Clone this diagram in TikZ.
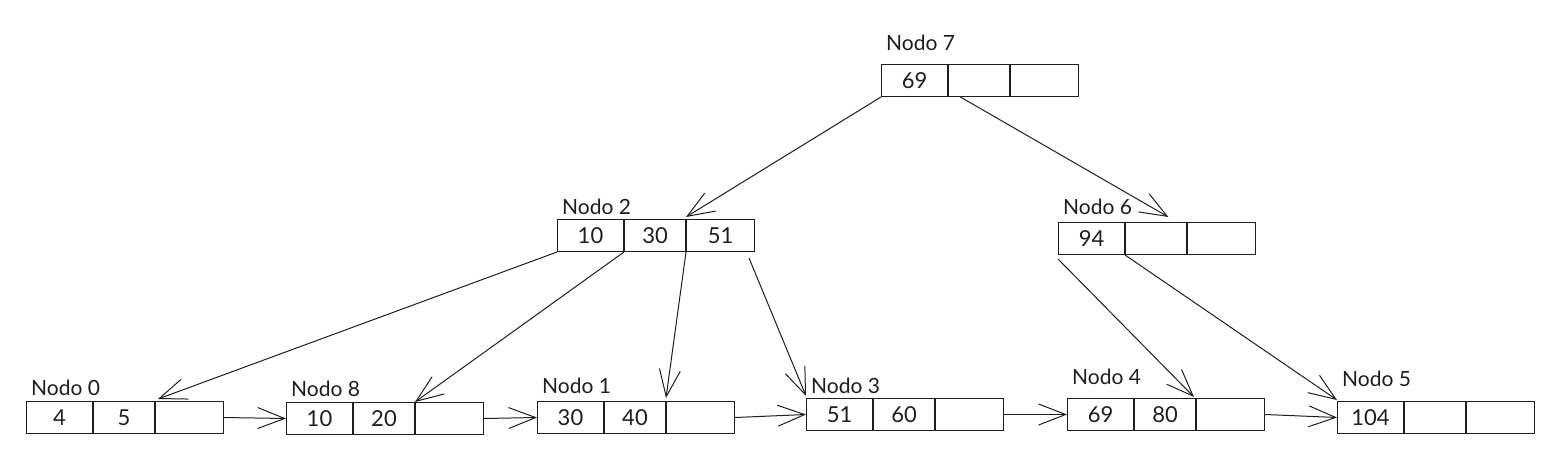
\documentclass[tikz,border=0pt]{standalone}
\usepackage{fontspec}
\setmainfont{Lato}
\usetikzlibrary{arrows.meta,calc}
\definecolor{ink}{HTML}{1E1E1E}
\tikzset{
  cell/.style={draw=ink, line width=1pt, minimum height=32pt, inner sep=0pt, anchor=north west, font=\fontsize{22}{24}\selectfont, text=ink},
  lbl/.style={anchor=west, inner sep=0pt, font=\fontsize{21}{23}\selectfont, text=ink},
  conn/.style={draw=ink, line width=1pt, -{Straight Barb[length=27pt,width=21pt,line width=1pt]}},
}
\newcommand\btnode[8]{%
  \node[cell, minimum width=66pt] (#1a) at (#2,#3) {#4};
  \node[cell, minimum width=61pt] (#1b) at (#1a.north east) {#5};
  \node[cell, minimum width=68pt] (#1c) at (#1b.north east) {#6};
  \node[lbl] (#1l) at ([xshift=5pt,yshift=#8pt]#1a.north west) {#7};
}
\begin{document}
\begin{tikzpicture}[x=1pt,y=-1pt]
\useasboundingbox (0,0) rectangle (1546,455);
\btnode{n7}{881}{64}{69}{}{}{Nodo 7}{21}
\btnode{n2}{557}{219}{10}{30}{51}{Nodo 2}{12}
\btnode{n6}{1058}{222}{94}{}{}{Nodo 6}{15}
\btnode{n0}{26}{401}{4}{5}{}{Nodo 0}{13}
\btnode{n8}{286}{402}{10}{20}{}{Nodo 8}{13}
\btnode{n1}{537}{401}{30}{40}{}{Nodo 1}{15}
\btnode{n3}{806}{398}{51}{60}{}{Nodo 3}{12}
\btnode{n4}{1067}{398}{69}{80}{}{Nodo 4}{21}
\btnode{n5}{1337}{401}{104}{}{}{Nodo 5}{22}
% helper coordinates
\coordinate (s7b) at ($(n7b.south west)!0.2!(n7b.south east)$);
\coordinate (t6b) at ($(n6b.north west)!0.7!(n6b.north east)+(0,-5)$);
% tree edges
\path[conn] (n7a.south west) -- ([yshift=2pt]n2c.north west);
\path[conn] (s7b) -- (t6b);
\path[conn] (n2a.south west) -- ([xshift=3pt,yshift=2pt]n0c.north west);
\path[conn] (n2b.south west) -- (n8c.north west);
\path[conn] (n2c.south west) -- ([yshift=3pt]n1c.north west);
\path[conn] ([xshift=-6pt,yshift=-6pt]n2c.south east) -- ([yshift=2pt]n3a.north west);
\path[conn] ([yshift=-4pt]n6a.south west) -- ([xshift=-2pt,yshift=1pt]n4c.north west);
\path[conn] (n6b.south west) -- ([yshift=1pt]n5a.north west);
% leaf links
\path[conn] (n0c.east) -- (n8a.west);
\path[conn] (n8c.east) -- (n1a.west);
\path[conn] (n1c.east) -- (n3a.west);
\path[conn] (n3c.east) -- (n4a.west);
\path[conn] (n4c.east) -- (n5a.west);
\end{tikzpicture}
\end{document}
